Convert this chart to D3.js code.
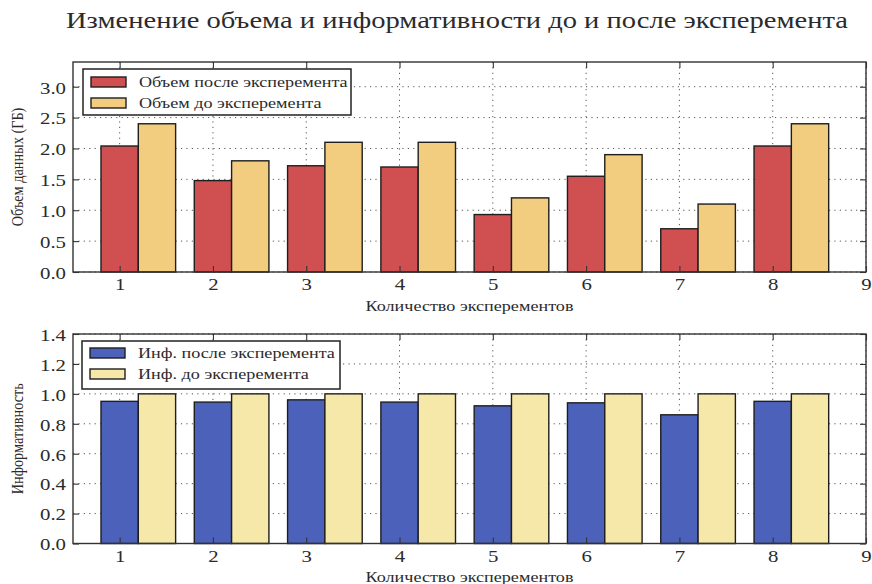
<!DOCTYPE html>
<html>
<head>
<meta charset="utf-8">
<script src="https://cdnjs.cloudflare.com/ajax/libs/d3/7.8.5/d3.min.js"></script>
<style>
    body { margin: 0; background: #fff; }
    svg text { font-family: "Liberation Serif", "DejaVu Serif", serif; fill: #2b2b2b; }
    .grid line { stroke: #444; stroke-width: 0.9; stroke-dasharray: 1.2,4.2; }
    .frame { fill: none; stroke: #333; stroke-width: 1.4; }
    .bar { stroke: #1e1e1e; stroke-width: 1.4; }
</style>
</head>
<body>
<div id="chart"></div>
<script>

// ---- data ----
var experiments = [1, 2, 3, 4, 5, 6, 7, 8];
var xTicks = [1, 2, 3, 4, 5, 6, 7, 8, 9];

var volumeAfter  = [2.04, 1.48, 1.72, 1.70, 0.93, 1.55, 0.70, 2.04];
var volumeBefore = [2.40, 1.80, 2.10, 2.10, 1.20, 1.90, 1.10, 2.40];
var volumeTicks  = [0.0, 0.5, 1.0, 1.5, 2.0, 2.5, 3.0];

var infoAfter  = [0.95, 0.945, 0.96, 0.945, 0.92, 0.94, 0.86, 0.95];
var infoBefore = [1.0, 1.0, 1.0, 1.0, 1.0, 1.0, 1.0, 1.0];
var infoTicks  = [0.0, 0.2, 0.4, 0.6, 0.8, 1.0, 1.2, 1.4];

var volumeNames = ["Объем после эксперемента", "Объем до эксперемента"];
var infoNames   = ["Инф. после эксперемента", "Инф. до эксперемента"];

var titleText = "Изменение объема и информативности до и после эксперемента";
var xLabel = "Количество эксперементов";

// the picture is stretched sideways, so text gets a horizontal stretch
var TICK_STRETCH = 1.19;
var LABEL_STRETCH = 1.25;

function stretchText(sel, k) {
    sel.each(function() {
        var len = this.getComputedTextLength();
        d3.select(this)
            .attr("textLength", len * k)
            .attr("lengthAdjust", "spacingAndGlyphs");
    });
}

var svg = d3.select("#chart").append("svg")
    .attr("width", 872)
    .attr("height", 584);

svg.append("text")
    .attr("x", 457)
    .attr("y", 28)
    .style("text-anchor", "middle")
    .style("font-size", "23px")
    .attr("textLength", 782)
    .attr("lengthAdjust", "spacingAndGlyphs")
    .text(titleText);


/*
 * BarPanel - one subplot with two bar series
 */
BarPanel = function(_svg, _opts) {
    this.svg = _svg;
    this.opts = _opts;
    this.initVis();
}

BarPanel.prototype.initVis = function() {
    var vis = this;
    var o = vis.opts;

    vis.margin = { top: o.top, left: 73 };
    vis.width = 793;
    vis.height = o.height;

    vis.g = vis.svg.append("g")
        .attr("transform", "translate(" + vis.margin.left + "," + vis.margin.top + ")");

    vis.x = d3.scaleLinear()
        .domain([0.5, 9])
        .range([0, vis.width]);

    vis.y = d3.scaleLinear()
        .domain([0, o.yMax])
        .range([vis.height, 0]);

    // grid
    vis.g.append("g")
        .attr("class", "grid")
        .selectAll("line.gx")
        .data(xTicks)
        .enter().append("line")
        .attr("x1", function(d) { return vis.x(d); })
        .attr("x2", function(d) { return vis.x(d); })
        .attr("y1", 0)
        .attr("y2", vis.height);

    vis.g.append("g")
        .attr("class", "grid")
        .selectAll("line.gy")
        .data(o.yTicks)
        .enter().append("line")
        .attr("x1", 0)
        .attr("x2", vis.width)
        .attr("y1", function(d) { return vis.y(d); })
        .attr("y2", function(d) { return vis.y(d); });

    // bars: first series left of the tick, second one right of it
    var barW = 0.4;
    var series = [o.after, o.before];
    series.forEach(function(vals, s) {
        vis.g.selectAll(".bar-s" + s)
            .data(vals)
            .enter().append("rect")
            .attr("class", "bar bar-s" + s)
            .attr("x", function(d, i) { return vis.x(experiments[i] - 0.2 + s * barW); })
            .attr("width", vis.x(barW) - vis.x(0))
            .attr("y", function(d) { return vis.y(d); })
            .attr("height", function(d) { return vis.height - vis.y(d); })
            .style("fill", o.colors[s]);
    });

    // axes, ticks pointing inward on all four sides
    var tickLen = 6;
    vis.xAxis = d3.axisBottom(vis.x).tickValues(xTicks).tickSize(-tickLen).tickPadding(6)
        .tickFormat(d3.format("d"));
    vis.xAxisTop = d3.axisTop(vis.x).tickValues(xTicks).tickSize(-tickLen).tickFormat("");
    vis.yAxis = d3.axisLeft(vis.y).tickValues(o.yTicks).tickSize(-tickLen).tickPadding(7)
        .tickFormat(d3.format(".1f"));
    vis.yAxisRight = d3.axisRight(vis.y).tickValues(o.yTicks).tickSize(-tickLen).tickFormat("");

    function style(g) {
        g.select(".domain").remove();
        g.selectAll(".tick line").attr("stroke", "#333").attr("stroke-width", 1.1);
        g.selectAll(".tick text").style("font-size", "17.5px").attr("fill", "#2b2b2b");
    }

    vis.g.append("g").attr("transform", "translate(0," + vis.height + ")")
        .call(vis.xAxis).call(style)
        .selectAll(".tick text").call(stretchText, TICK_STRETCH);
    vis.g.append("g").call(vis.xAxisTop).call(style);
    vis.g.append("g").call(vis.yAxis).call(style)
        .selectAll(".tick text").attr("dy", "0.36em").call(stretchText, TICK_STRETCH);
    vis.g.append("g").attr("transform", "translate(" + vis.width + ",0)")
        .call(vis.yAxisRight).call(style);

    vis.g.append("rect")
        .attr("class", "frame")
        .attr("width", vis.width)
        .attr("height", vis.height);

    // axis labels
    vis.g.append("text")
        .attr("x", vis.width / 2)
        .attr("y", vis.height + o.xLabelGap)
        .style("text-anchor", "middle")
        .style("font-size", "14.5px")
        .text(xLabel)
        .call(stretchText, LABEL_STRETCH);

    vis.g.append("text")
        .attr("transform", "translate(" + (-50) + "," + (vis.height / 2) + ") rotate(-90)")
        .style("text-anchor", "middle")
        .style("font-size", "17px")
        .text(o.yLabel)
        .call(stretchText, 0.84);

    // legend
    var lg = vis.g.append("g")
        .attr("transform", "translate(" + o.legend.x + "," + o.legend.y + ")");

    lg.append("rect")
        .attr("width", o.legend.w)
        .attr("height", o.legend.h)
        .style("fill", "#fff")
        .style("stroke", "#222")
        .style("stroke-width", 1.5);

    var items = lg.selectAll(".item")
        .data(o.names)
        .enter().append("g")
        .attr("class", "item")
        .attr("transform", function(d, i) { return "translate(8," + (o.legend.pad + i * o.legend.step) + ")"; });

    items.append("rect")
        .attr("class", "bar")
        .attr("width", 35)
        .attr("height", 10)
        .style("fill", function(d, i) { return o.colors[i]; });

    items.append("text")
        .attr("x", 48)
        .attr("y", 10)
        .style("font-size", "14.5px")
        .text(function(d) { return d; })
        .call(stretchText, LABEL_STRETCH);
}

new BarPanel(svg, {
    top: 62, height: 210, yMax: 3.4, yTicks: volumeTicks,
    after: volumeAfter, before: volumeBefore,
    colors: ["#d05052", "#f2cd7f"],
    names: volumeNames,
    yLabel: "Объем данных (ГБ)",
    xLabelGap: 39,
    legend: { x: 10, y: 7, w: 268, h: 46, pad: 8, step: 21 }
});

new BarPanel(svg, {
    top: 334, height: 209.5, yMax: 1.4, yTicks: infoTicks,
    after: infoAfter, before: infoBefore,
    colors: ["#4c62ba", "#f6e8a9"],
    names: infoNames,
    yLabel: "Информативность",
    xLabelGap: 38,
    legend: { x: 9, y: 7, w: 258, h: 48, pad: 7, step: 21 }
});

</script>
</body>
</html>
